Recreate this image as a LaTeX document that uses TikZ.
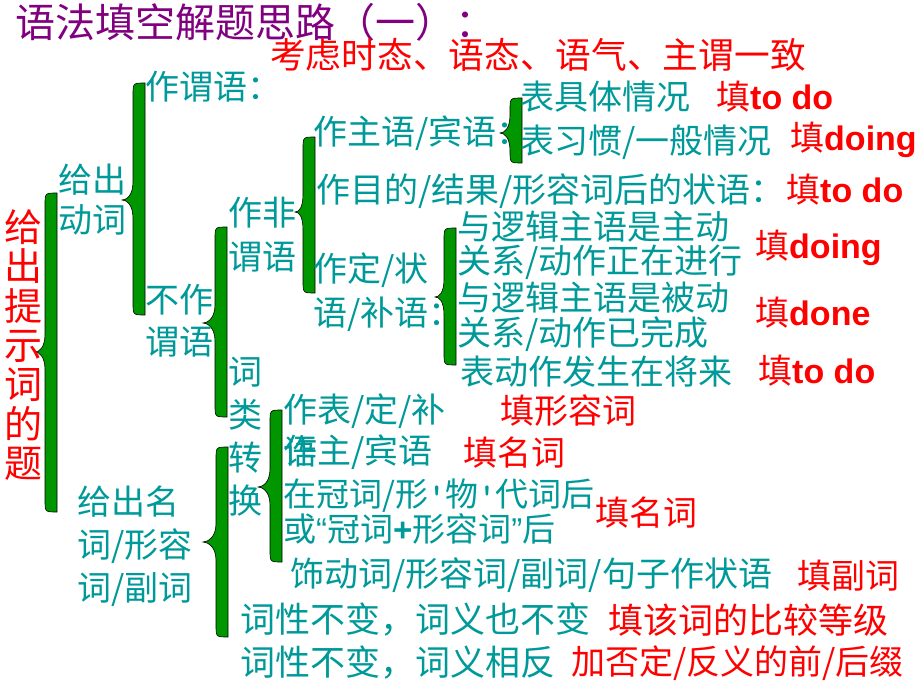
\documentclass[tikz,border=0pt]{standalone}
\usepackage{fontspec}
\setmainfont{Noto Sans CJK SC}
\newfontfamily\enfont{Liberation Sans}
\usepackage{tikz}
\definecolor{tealtxt}{RGB}{0,153,153}
\definecolor{redtxt}{RGB}{255,0,0}
\definecolor{titlepurple}{RGB}{128,0,128}
\definecolor{braceg}{RGB}{0,150,0}
\newcommand{\gbrace}[5]% right x, top, bottom, tip x, tip y
{(#1,#2) .. controls (#1-12,#2) .. (#1-12,#2+12)
 -- (#1-12,#5-18) .. controls (#1-12,#5-4) and (#4+4,#5) .. (#4,#5)
 .. controls (#4+4,#5) and (#1-12,#5+4) .. (#1-12,#5+18)
 -- (#1-12,#3-12) .. controls (#1-12,#3) .. (#1,#3) -- cycle
}
\newcommand{\en}[1]{{\enfont\bfseries #1}}
\newcommand{\apos}{{\ttfamily\bfseries '}}
\usetikzlibrary{positioning}

\begin{document}
\begin{tikzpicture}[x=1pt,y=-1pt,
	txt/.style={anchor=west, inner sep=0pt, text=tealtxt, align=left},
	red txt/.style={anchor=west, inner sep=0pt, text=redtxt, align=left, font=\fontsize{34}{40}\selectfont},
	gbr/.style={fill=braceg, draw=black, line width=0.6pt}]
	\useasboundingbox (0,0) rectangle (920,690);
	\node[anchor=west, inner sep=0pt, text=titlepurple, font=\fontsize{40}{40}\selectfont] (title) at (15,22){语法填空解题思路（一）：};
	\node[red txt, font=\fontsize{35.7}{40}\selectfont] (kaolv) at (270,55){考虑时态、语态、语气、主谓一致};
	% braces
	\filldraw[gbr] \gbrace{57}{193}{512}{35}{352};%all
	\filldraw[gbr] \gbrace{145}{83}{315}{122}{200};%verb
	\filldraw[gbr] \gbrace{227}{227}{417}{203}{323};%not pred
	\filldraw[gbr] \gbrace{315}{137}{293}{295}{212};%non-finite
	\filldraw[gbr] \gbrace{522}{98}{163}{500}{133};%subj/obj
	\filldraw[gbr] \gbrace{456}{228}{365}{435}{297};%attr/adv
	\filldraw[gbr] \gbrace{282}{410}{562}{258}{487};%conversion
	\filldraw[gbr] \gbrace{228}{447}{637}{203}{542};%noun/adj/adv
	% left column
	\node[anchor=center, inner sep=0pt, text=redtxt, align=center, font=\fontsize{38}{39.3}\selectfont] (tishi) at (24,345){给\\出\\提\\示\\词\\的\\题};
	\node[txt, font=\fontsize{34}{40}\selectfont] (gcdc) at (58,200){给出\\动词};
	\node[txt, font=\fontsize{34}{43}\selectfont] (gcmc) at (77,546){给出名\\词/形容\\词/副词};
	\node[txt, font=\fontsize{34}{40}\selectfont] (zwy) at (145,87){作谓语：};
	\node[txt, font=\fontsize{34}{42}\selectfont] (bzwy) at (145,321){不作\\谓语};
	\node[txt, font=\fontsize{34}{44}\selectfont] (zfwy) at (228,235){作非\\谓语};
	\node[txt, font=\fontsize{34}{43}\selectfont] (clzh) at (228,437){词\\类\\转\\换};
	% non-finite
	\node[txt, font=\fontsize{34}{40}\selectfont] (zzy) at (313,133){作主语/宾语：};
	\node[txt, font=\fontsize{34}{40}\selectfont] (zmd) at (316,191){作目的/结果/形容词后的状语：};
	\node[txt, font=\fontsize{34}{44}\selectfont] (zdz) at (313,292){作定/状\\语/补语：};
	\node[txt, font=\fontsize{34}{40}\selectfont] (bjt) at (520,97){表具体情况};
	\node[txt, font=\fontsize{34}{40}\selectfont] (bxg) at (520,142){表习惯/一般情况};
	\node[txt, font=\fontsize{34}{34}\selectfont] (zd) at (457,245){与逻辑主语是主动\\关系/动作正在进行};
	\node[txt, font=\fontsize{34}{35}\selectfont] (bd) at (457,317){与逻辑主语是被动\\关系/动作已完成};
	\node[txt, font=\fontsize{34}{40}\selectfont] (jl) at (460,372){表动作发生在将来};
	\node[red txt] (tian1) at (716,97){填\en{to do}};
	\node[red txt] (tian2) at (790,140){填\en{doing}};
	\node[red txt] (tian3) at (786,190){填\en{to do}};
	\node[red txt] (tian4) at (755,248){填\en{doing}};
	\node[red txt] (tian5) at (755,313){填\en{done}};
	\node[red txt] (tian6) at (758,371){填\en{to do}};
	% word class conversion
	\node[txt, font=\fontsize{34}{40}\selectfont] (zbd) at (283,411){作表/定/补};
	\node[txt, font=\fontsize{34}{40}\selectfont] (yu) at (283,452){语};
	\node[txt, font=\fontsize{34}{40}\selectfont] (zzb) at (283,452){作主/宾语};
	\node[txt, font=\fontsize{33}{35}\selectfont] (zgc) at (283,512){在冠词/形\apos 物\apos 代词后\\或{\enfont “}冠词\en{+}形容词{\enfont ”}后};
	\node[txt, font=\fontsize{34}{40}\selectfont] (sdc) at (290,575){饰动词/形容词/副词/句子作状语};
	\node[txt, font=\fontsize{35}{40}\selectfont] (cxbb) at (240,620){词性不变，词义也不变};
	\node[txt, font=\fontsize{35}{40}\selectfont] (cxxf) at (240,663){词性不变，词义相反};
	\node[red txt] (tian7) at (500,411){填形容词};
	\node[red txt] (tian8) at (463,453){填名词};
	\node[red txt] (tian9) at (595,513){填名词};
	\node[red txt] (tian10) at (797,576){填副词};
	\node[red txt, font=\fontsize{35}{40}\selectfont] (tian11) at (608,620){填该词的比较等级};
	\node[red txt] (tian12) at (571,663){加否定/反义的前/后缀};
\end{tikzpicture}
\end{document}
